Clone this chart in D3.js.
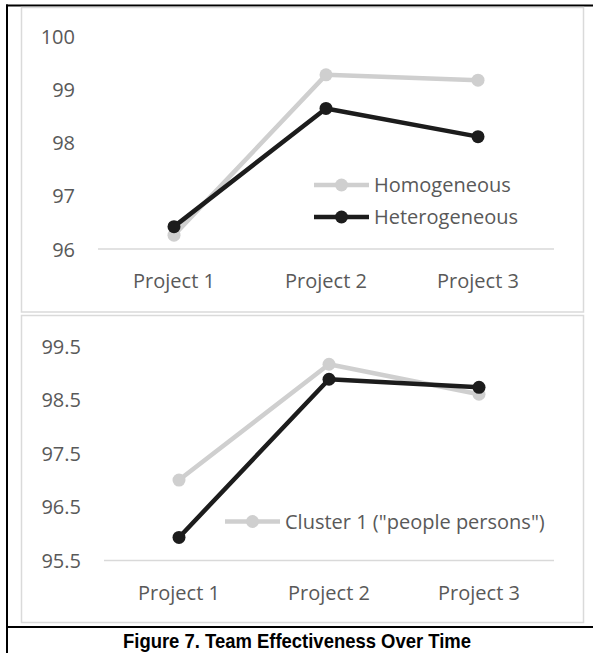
<!DOCTYPE html>
<html>
<head>
<meta charset="utf-8">
<script src="https://cdn.jsdelivr.net/npm/d3@7"></script>
<style>
  html, body { margin: 0; padding: 0; background: #ffffff; }
  svg { display: block; }
</style>
</head>
<body>
<script>
// ---- data ----
const projects = ["Project 1", "Project 2", "Project 3"];

// Panel A: team composition
const homogeneous   = [96.26, 99.27, 99.17];
const heterogeneous = [96.42, 98.64, 98.11];
const ticksA = [96, 97, 98, 99, 100];

// Panel B: personality clusters
const cluster1 = [97.0, 99.16, 98.6];
const cluster2 = [95.93, 98.88, 98.73];
const ticksB = [95.5, 96.5, 97.5, 98.5, 99.5];

const caption = "Figure 7. Team Effectiveness Over Time";

// ---- styles ----
const W = 593, H = 653;
const LIGHT = "#cfcfcf", DARK = "#1c1c1c";
const TEXT = "#595959", GRID = "#d9d9d9", FRAME = "#dadada";
const FONT = "'Open Sans', 'Noto Sans', sans-serif";
const FS = 20;

const svg = d3.select("body").append("svg")
  .attr("width", W).attr("height", H);

// figure frame (black rules on left, top and above the caption)
svg.append("line").attr("x1", 7).attr("x2", 7).attr("y1", 4.5).attr("y2", H)
  .attr("stroke", "#000").attr("stroke-width", 2);
svg.append("line").attr("x1", 6).attr("x2", W).attr("y1", 5.5).attr("y2", 5.5)
  .attr("stroke", "#000").attr("stroke-width", 2);
svg.append("line").attr("x1", 6).attr("x2", W).attr("y1", 627).attr("y2", 627)
  .attr("stroke", "#000").attr("stroke-width", 2);

function panel(cfg) {
  const g = svg.append("g");

  // chart area border
  g.append("rect")
    .attr("x", cfg.box[0]).attr("y", cfg.box[1])
    .attr("width", cfg.box[2]).attr("height", cfg.box[3])
    .attr("fill", "#fff").attr("stroke", FRAME).attr("stroke-width", 1.5);

  const x = d3.scaleBand().domain(projects).range([cfg.x0, cfg.x1]);
  const y = d3.scaleLinear().domain(cfg.domain).range([cfg.yBottom, cfg.yTop]);
  const cx = d => x(d) + x.bandwidth() / 2;

  // baseline gridline
  g.append("line")
    .attr("x1", cfg.x0).attr("x2", cfg.x1)
    .attr("y1", y(cfg.domain[0])).attr("y2", y(cfg.domain[0]))
    .attr("stroke", GRID).attr("stroke-width", 1.5);

  // y axis
  const ya = g.append("g")
    .attr("transform", `translate(${cfg.x0},0)`)
    .call(d3.axisLeft(y).tickValues(cfg.ticks).tickSize(0).tickPadding(23)
      .tickFormat(d => String(d)));
  ya.select(".domain").remove();
  ya.selectAll("text")
    .attr("fill", TEXT).attr("font-family", FONT).attr("font-size", FS)
    .attr("dy", "0.35em");

  // x axis
  const xa = g.append("g")
    .attr("transform", `translate(0,${y(cfg.domain[0])})`)
    .call(d3.axisBottom(x).tickSize(0));
  xa.select(".domain").remove();
  xa.selectAll("text")
    .attr("fill", TEXT).attr("font-family", FONT).attr("font-size", FS)
    .attr("y", 32).attr("dy", "0.35em");

  // series
  const line = d3.line().x((d, i) => cx(projects[i])).y(d => y(d));
  cfg.series.forEach(s => {
    g.append("path").datum(s.values)
      .attr("d", line).attr("fill", "none")
      .attr("stroke", s.color).attr("stroke-width", 4.5)
      .attr("stroke-linejoin", "round");
    g.selectAll(null).data(s.values).enter().append("circle")
      .attr("cx", (d, i) => cx(projects[i])).attr("cy", d => y(d))
      .attr("r", 6.5).attr("fill", s.color);
  });

  // legend
  cfg.legend.forEach(l => {
    const lg = g.append("g").attr("transform", `translate(${l.x},${l.y})`);
    lg.append("line").attr("x1", 0).attr("x2", 55).attr("y1", 0).attr("y2", 0)
      .attr("stroke", l.color).attr("stroke-width", 4.5);
    lg.append("circle").attr("cx", 27.5).attr("cy", 0).attr("r", 6.5).attr("fill", l.color);
    lg.append("text").attr("x", 60).attr("y", 0).attr("dy", "0.35em")
      .attr("fill", TEXT).attr("font-family", FONT).attr("font-size", FS)
      .text(l.label);
  });
}

panel({
  box: [21.5, 7.5, 562, 304.5],
  x0: 98, x1: 554, yTop: 36, yBottom: 249,
  domain: [96, 100], ticks: ticksA,
  series: [
    { values: homogeneous, color: LIGHT },
    { values: heterogeneous, color: DARK }
  ],
  legend: [
    { label: "Homogeneous", color: LIGHT, x: 314, y: 185 },
    { label: "Heterogeneous", color: DARK, x: 314, y: 217 }
  ]
});

panel({
  box: [21.5, 315.5, 562, 307],
  x0: 104, x1: 554, yTop: 346, yBottom: 560.5,
  domain: [95.5, 99.5], ticks: ticksB,
  series: [
    { values: cluster1, color: LIGHT },
    { values: cluster2, color: DARK }
  ],
  legend: [
    { label: "Cluster 1 (\"people persons\")", color: LIGHT, x: 225, y: 521.5 }
  ]
});

// caption
svg.append("text")
  .attr("x", 297).attr("y", 648)
  .attr("text-anchor", "middle")
  .attr("font-family", "'Liberation Sans', Arial, sans-serif")
  .attr("font-weight", "bold").attr("font-size", 21)
  .attr("textLength", 348).attr("lengthAdjust", "spacingAndGlyphs")
  .attr("fill", "#000")
  .text(caption);
</script>
</body>
</html>
